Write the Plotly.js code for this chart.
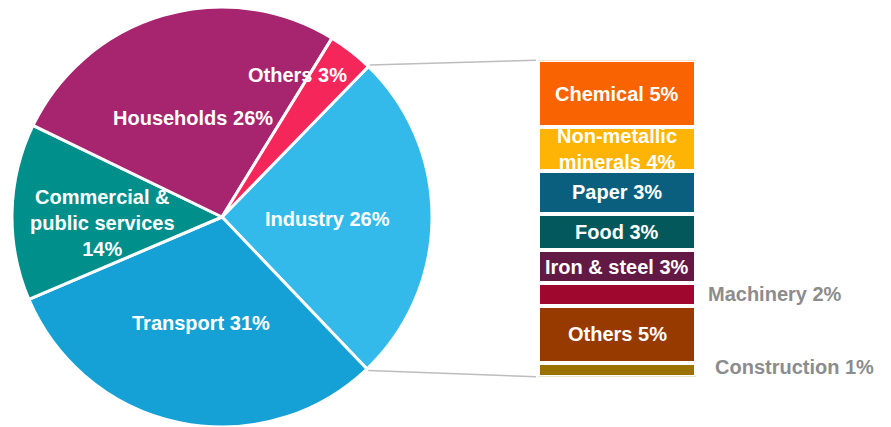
<!DOCTYPE html>
<html>
<head>
<meta charset="utf-8">
<script src="https://cdn.plot.ly/plotly-3.0.1.min.js"></script>
<style>html,body{margin:0;padding:0;background:#fff;}#chart{width:891px;height:427px;}</style>
</head>
<body>
<div id="chart"></div>
<script>
// ---- Data ----
const sectorLabels = ["Industry", "Transport", "Commercial &<br>public services", "Households", "Others"];
const sectorValues = [25.6, 30.7, 13.6, 26.6, 3.5];
const sectorPctText = ["26%", "31%", "14%", "26%", "3%"];
const sectorColors = ["#33baea", "#15a1d5", "#008f8a", "#a6256e", "#f4265a"];

const industryLabels = ["Chemical", "Non-metallic<br>minerals", "Paper", "Food", "Iron & steel", "Machinery", "Others", "Construction"];
const industryValues = [5.5, 3.6, 3.5, 3.0, 2.7, 1.85, 4.75, 1.1];
const industryPctText = ["5%", "4%", "3%", "3%", "3%", "2%", "5%", "1%"];
const industryColors = ["#f96302", "#fdb404", "#0b5f7e", "#02585a", "#621943", "#a0072e", "#963a00", "#9a7200"];
const industryOutside = [false, false, false, false, false, true, false, true];

// ---- Layout geometry ----
const W = 891, H = 427;
const FONT = "Liberation Sans, Arial, sans-serif";
const pieDomX = [12 / W, 432 / W];
const pieDomY = [0, 1 - 7 / H];
const barDomX = [538 / W, 696 / W];
const barDomY = [1 - 376.7 / H, 1 - 60.3 / H];
const rotation = 44.2;

const traces = [];
traces.push({
  type: "pie",
  labels: sectorLabels,
  values: sectorValues,
  sort: false,
  direction: "clockwise",
  rotation: rotation,
  marker: {colors: sectorColors, line: {color: "#ffffff", width: 3}},
  textinfo: "none",
  hoverinfo: "label+percent",
  domain: {x: pieDomX, y: pieDomY},
  showlegend: false
});

const total = industryValues.reduce((a, b) => a + b, 0);
industryValues.forEach((v, i) => {
  traces.push({
    type: "bar",
    x: ["Industry"],
    y: [v],
    xaxis: "x2",
    yaxis: "y2",
    name: industryLabels[i],
    marker: {color: industryColors[i], line: {color: "#ffffff", width: 4}},
    hoverinfo: "name",
    showlegend: false
  });
});

const annotations = [];
// Pie labels (text positions in pixels -> paper)
const piePos = [[327, 219], [201.3, 322.7], [102, 223], [193, 118], [297.5, 75]];
sectorLabels.forEach((lab, i) => {
  annotations.push({
    xref: "paper", yref: "paper",
    x: piePos[i][0] / W, y: 1 - piePos[i][1] / H,
    text: lab + (i === 2 ? "<br>" : " ") + sectorPctText[i],
    showarrow: false,
    font: {family: FONT, size: 20, color: "#ffffff", weight: "bold"},
    xanchor: "center", yanchor: "middle",
    align: "center"
  });
});

// Bar labels
let cum = 0;
industryValues.forEach((v, i) => {
  const mid = cum + v / 2;
  cum += v;
  if (industryOutside[i]) {
    annotations.push({
      xref: "x2 domain", yref: "y2",
      x: i === 5 ? 1.063 : 1.108, y: mid,
      yshift: i === 7 ? 3 : 0,
      text: industryLabels[i] + " " + industryPctText[i],
      showarrow: false,
      font: {family: FONT, size: 20, color: "#8c8c8c", weight: "bold"},
      xanchor: "left", yanchor: "middle"
    });
  } else {
    annotations.push({
      xref: "x2 domain", yref: "y2",
      x: 0.5, y: mid,
      text: industryLabels[i] + " " + industryPctText[i],
      showarrow: false,
      font: {family: FONT, size: 20, color: "#ffffff", weight: "bold"},
      xanchor: "center", yanchor: "middle",
      align: "center"
    });
  }
});

// Connector lines: from pie edge at Industry slice boundaries to bar corners
const cx = (pieDomX[0] + pieDomX[1]) / 2 * W;
const cy = (1 - (pieDomY[0] + pieDomY[1]) / 2) * H;
const r = Math.min((pieDomX[1] - pieDomX[0]) * W, (pieDomY[1] - pieDomY[0]) * H) / 2;
const sumPie = sectorValues.reduce((a, b) => a + b, 0);
const a0 = rotation * Math.PI / 180;
const a1 = (rotation + sectorValues[0] / sumPie * 360) * Math.PI / 180;
const p0 = [cx + (r + 2) * Math.sin(a0), cy - (r + 2) * Math.cos(a0)];
const p1 = [cx + (r + 2) * Math.sin(a1), cy - (r + 2) * Math.cos(a1)];
const shapes = [
  {type: "line", xref: "paper", yref: "paper",
   x0: p0[0] / W, y0: 1 - p0[1] / H, x1: barDomX[0] - 2 / W, y1: barDomY[1],
   line: {color: "#bdbdbd", width: 1.5}},
  {type: "line", xref: "paper", yref: "paper",
   x0: p1[0] / W, y0: 1 - p1[1] / H, x1: barDomX[0] - 2 / W, y1: barDomY[0],
   line: {color: "#bdbdbd", width: 1.5}}
];

const layout = {
  width: W, height: H,
  margin: {l: 0, r: 0, t: 0, b: 0},
  paper_bgcolor: "#ffffff",
  plot_bgcolor: "rgba(0,0,0,0)",
  showlegend: false,
  barmode: "stack",
  bargap: 0,
  xaxis2: {domain: barDomX, anchor: "y2", visible: false, fixedrange: true},
  yaxis2: {domain: barDomY, anchor: "x2", range: [total, 0], visible: false, fixedrange: true},
  annotations: annotations,
  shapes: shapes,
  font: {family: FONT}
};

Plotly.newPlot("chart", traces, layout, {displayModeBar: false, staticPlot: true});
</script>
</body>
</html>
